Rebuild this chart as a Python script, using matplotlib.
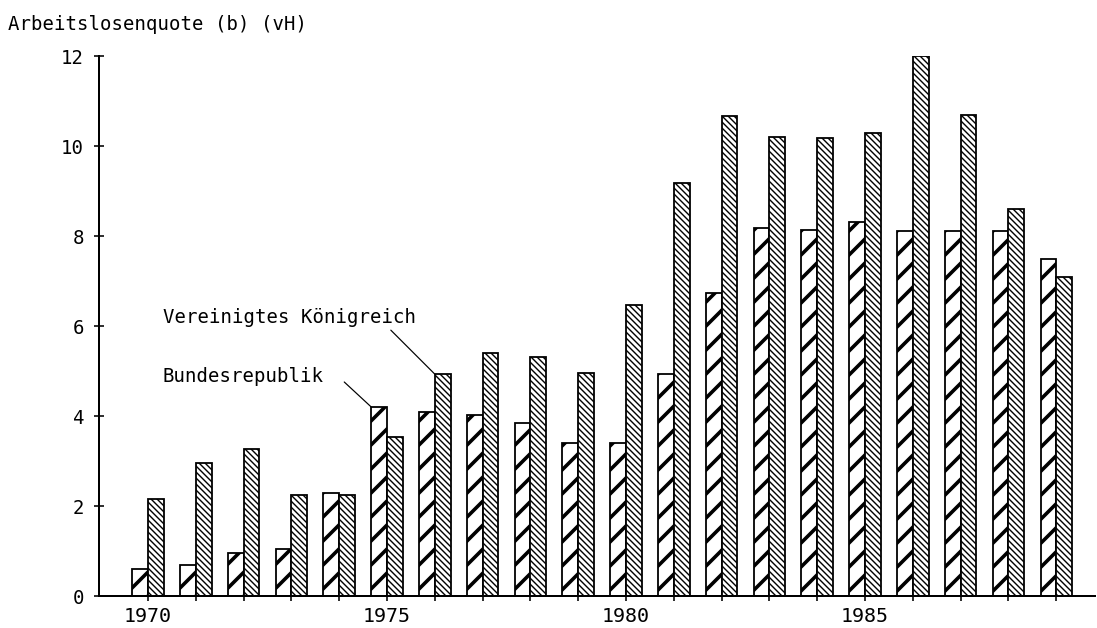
import matplotlib
matplotlib.use('Agg')
import matplotlib.pyplot as plt

years = list(range(1970, 1990))
brd = [0.6, 0.7, 0.95, 1.05, 2.3, 4.2, 4.09, 4.02, 3.84, 3.4,
       3.4, 4.93, 6.73, 8.18, 8.14, 8.31, 8.12, 8.12, 8.12, 7.48]
uk = [2.15, 2.95, 3.27, 2.24, 2.24, 3.53, 4.93, 5.4, 5.31, 4.96,
      6.47, 9.18, 10.67, 10.2, 10.18, 10.28, 12.0, 10.7, 8.61, 7.08]
yticks = [0, 2, 4, 6, 8, 10, 12]
xlabels = [str(y) if y % 5 == 0 else '' for y in years]

plt.rcParams['font.family'] = ['DejaVu Sans Mono', 'DejaVu Sans']

dpi = 144
fig = plt.figure(figsize=(1097 / dpi, 628 / dpi), dpi=dpi)
ax = fig.add_axes([99 / 1097, 32 / 628, 996 / 1097, 540 / 628])

w = 0.33
with plt.rc_context({'hatch.linewidth': 1.8}):
    b1 = ax.bar([y - w / 2 for y in years], brd, width=w, color='white',
                edgecolor='black', linewidth=0.9, hatch='//')
for p in b1:
    if hasattr(p, 'set_hatch_linewidth'):
        p.set_hatch_linewidth(1.8)
with plt.rc_context({'hatch.linewidth': 0.7}):
    b2 = ax.bar([y + w / 2 for y in years], uk, width=w, color='white',
                edgecolor='black', linewidth=0.9, hatch='\\' * 8)
for p in b2:
    if hasattr(p, 'set_hatch_linewidth'):
        p.set_hatch_linewidth(0.7)

ax.set_xlim(1968.975, 1989.81)
ax.set_ylim(0, 12)
ax.set_yticks(yticks)
ax.set_xticks(years)
ax.set_xticklabels(xlabels)
for s in ['top', 'right']:
    ax.spines[s].set_visible(False)
ax.spines['left'].set_linewidth(1.0)
ax.spines['bottom'].set_linewidth(1.0)
ax.tick_params(axis='y', direction='inout', length=5, width=0.8,
               pad=5, labelsize=9.5)
ax.tick_params(axis='x', direction='out', length=2.5, width=0.8,
               pad=3, labelsize=10)

# labels with leader lines
ax.text(1970.31, 6.07, 'Vereinigtes Königreich', fontsize=9.5, va='baseline')
ax.annotate('', xy=(years[6], uk[6]), xytext=(-44, 44),
            textcoords='offset pixels',
            arrowprops=dict(arrowstyle='-', color='black', lw=0.6,
                            shrinkA=0, shrinkB=0))
ax.text(1970.31, 4.76, 'Bundesrepublik', fontsize=9.5, va='baseline')
ax.annotate('', xy=(years[5] - w, brd[5]), xytext=(-27, 25),
            textcoords='offset pixels',
            arrowprops=dict(arrowstyle='-', color='black', lw=0.6,
                            shrinkA=0, shrinkB=0))

fig.text(8 / 1097, 1 - 30 / 628, 'Arbeitslosenquote (b) (vH)',
         fontsize=9.5, va='baseline', ha='left')

fig.savefig('out.png', dpi=dpi)
